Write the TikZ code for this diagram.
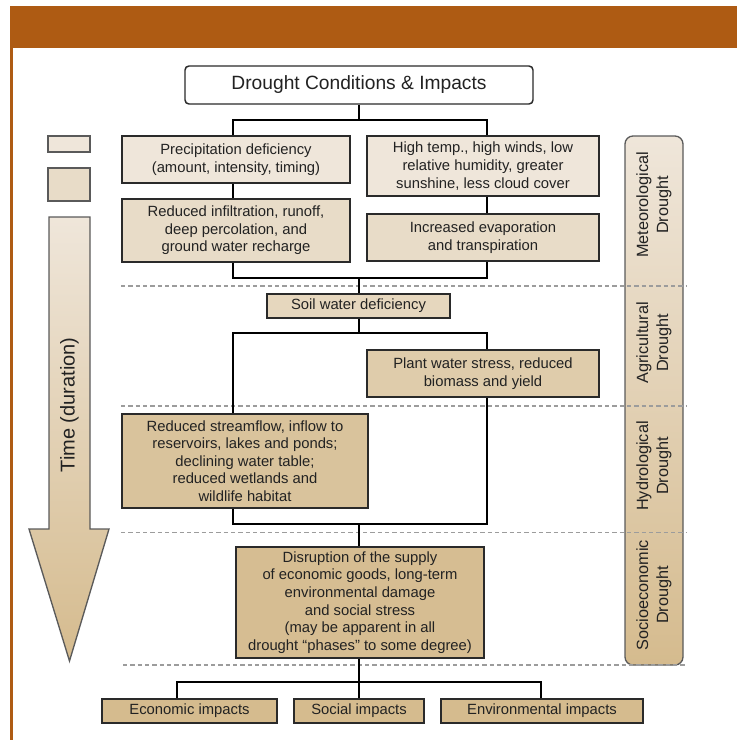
\documentclass[tikz,border=0pt]{standalone}
\usepackage{fontspec}
\setmainfont{Liberation Sans}
\definecolor{orangebar}{HTML}{AE5B13}
\definecolor{c1}{HTML}{EFE6DA}
\definecolor{c2}{HTML}{E8DCC8}
\definecolor{c3}{HTML}{E6D7BE}
\definecolor{c4}{HTML}{DFCCAB}
\definecolor{c5}{HTML}{D9C39C}
\definecolor{c6}{HTML}{D6BD92}
\definecolor{c7}{HTML}{D5BB8E}
\definecolor{boxline}{HTML}{2A2A2A}
\definecolor{txt}{HTML}{222222}
\definecolor{dashc}{HTML}{9C9C9C}
\definecolor{grayline}{HTML}{5A5A5A}
\begin{document}
\begin{tikzpicture}[x=0.75pt,y=-0.75pt,
  box/.style={draw=boxline, line width=1.1pt, align=center, inner sep=1pt, text=txt,
    font=\fontsize{11.1}{13.2}\selectfont},
  titlebox/.style={draw=boxline, line width=1.1pt, rounded corners=3pt, fill=white, text=txt,
    font=\fontsize{14.4}{16}\selectfont, minimum width=261pt, minimum height=28.5pt, inner sep=1pt},
  conn/.style={draw=black, line width=1.1pt},
  sidelbl/.style={rotate=90, align=center, text=txt, font=\fontsize{12.2}{15}\selectfont},
  phase/.style={draw=dashc, line width=1.1pt, dash pattern=on 3.2pt off 2.3pt},
  legbox/.style={draw=grayline, line width=1pt, minimum width=31.5pt, inner sep=0pt}
]
\useasboundingbox (0,0) rectangle (737,740);
% frame
\fill[orangebar] (9.5,6) rectangle (737,48);
\fill[orangebar] (9.5,48) rectangle (13,740);

% right side bar
\node[draw=grayline, line width=1pt, rounded corners=6pt, top color=c1, bottom color=c7,
  minimum width=43.5pt, minimum height=396.75pt, inner sep=0pt] (side) at (654,400.5) {};
\node[sidelbl] (met) at (654,205) {Meteorological\\Drought};
\node[sidelbl] (agr) at (654,343) {Agricultural\\Drought};
\node[sidelbl] (hyd) at (654,466) {Hydrological\\Drought};
\node[sidelbl] (soc) at (654,595) {Socioeconomic\\Drought};

% phase separators
\draw[phase] (121,286) -- (686,286);
\draw[phase] (121,406) -- (686,406);
\draw[phase] (121,532.5) -- (686,532.5);
\draw[phase] (123,665) -- (686,665);

% left legend and time arrow
\node[legbox, fill=c1, minimum height=12pt] (leg1) at (69,144) {};
\node[legbox, fill=c2, minimum height=24.75pt] (leg2) at (69,184.5) {};
\draw[draw=grayline, line width=1pt, top color=c1, bottom color=c7]
  (49,217) -- (90,217) -- (90,529) -- (109,529) -- (69.5,661) -- (29,529) -- (49,529) -- cycle;
\node[rotate=90, text=txt, font=\fontsize{15}{18}\selectfont] (time) at (69.5,405) {Time (duration)};

% boxes
\node[titlebox] (title) at (359,85) {Drought Conditions \& Impacts};
\node[box, fill=c1, minimum width=171pt, minimum height=35.25pt] (prec) at (236,159.5)
  {Precipitation deficiency\\(amount, intensity, timing)};
\node[box, fill=c1, minimum width=174pt, minimum height=45pt] (high) at (483,166)
  {High temp., high winds, low\\relative humidity, greater\\sunshine, less cloud cover};
\node[box, fill=c2, minimum width=171pt, minimum height=47.25pt] (infil) at (236,230.5)
  {Reduced infiltration, runoff,\\deep percolation, and\\ground water recharge};
\node[box, fill=c2, minimum width=174pt, minimum height=35.25pt] (evap) at (483,237.5)
  {Increased evaporation\\and transpiration};
\node[box, fill=c3, minimum width=137.25pt, minimum height=18pt] (soil) at (358.5,306)
  {Soil water deficiency};
\node[box, fill=c4, minimum width=174pt, minimum height=35.25pt] (plant) at (483,373.5)
  {Plant water stress, reduced\\biomass and yield};
\node[box, fill=c5, minimum width=184.5pt, minimum height=70.5pt] (stream) at (245,461)
  {Reduced streamflow, inflow to\\reservoirs, lakes and ponds;\\declining water table;\\reduced wetlands and\\wildlife habitat};
\node[box, fill=c6, minimum width=186pt, minimum height=83.25pt] (disrupt) at (360,602.5)
  {Disruption of the supply\\of economic goods, long-term\\environmental damage\\and social stress\\(may be apparent in all\\drought “phases” to some degree)};
\node[box, fill=c7, minimum width=131.25pt, minimum height=18pt] (econ) at (189.5,711) {Economic impacts};
\node[box, fill=c7, minimum width=97.5pt, minimum height=18pt] (social) at (359,711) {Social impacts};
\node[box, fill=c7, minimum width=151.5pt, minimum height=18pt] (env) at (542,711) {Environmental impacts};

% connectors
\coordinate (t1c) at (359,120);
\coordinate (t1l) at (233,120);
\coordinate (t1r) at (487,120);
\draw[conn] (title.south) -- (t1c);
\draw[conn] (t1l |- prec.north) -- (t1l) -- (t1r) -- (t1r |- high.north);
\draw[conn] (t1l |- prec.south) -- (t1l |- infil.north);
\draw[conn] (t1r |- high.south) -- (t1r |- evap.north);

\coordinate (b1c) at (359,278);
\coordinate (b1l) at (233,278);
\coordinate (b1r) at (487,278);
\draw[conn] (b1l |- infil.south) -- (b1l) -- (b1r) -- (b1r |- evap.south);
\draw[conn] (b1c) -- (b1c |- soil.north);

\coordinate (b2c) at (359,333);
\coordinate (b2l) at (233,333);
\coordinate (b2r) at (487,333);
\draw[conn] (b2c |- soil.south) -- (b2c);
\draw[conn] (b2l |- stream.north) -- (b2l) -- (b2r) -- (b2r |- plant.north);

\coordinate (b3c) at (359,524);
\coordinate (b3l) at (233,524);
\coordinate (b3r) at (487,524);
\draw[conn] (b3l |- stream.south) -- (b3l) -- (b3r) -- (b3r |- plant.south);
\draw[conn] (b3c) -- (b3c |- disrupt.north);

\coordinate (b4c) at (359,682);
\coordinate (b4l) at (177,682);
\coordinate (b4r) at (541,682);
\draw[conn] (b4c |- disrupt.south) -- (b4c);
\draw[conn] (b4l |- econ.north) -- (b4l) -- (b4r) -- (b4r |- env.north);
\draw[conn] (b4c) -- (b4c |- social.north);
\end{tikzpicture}
\end{document}
